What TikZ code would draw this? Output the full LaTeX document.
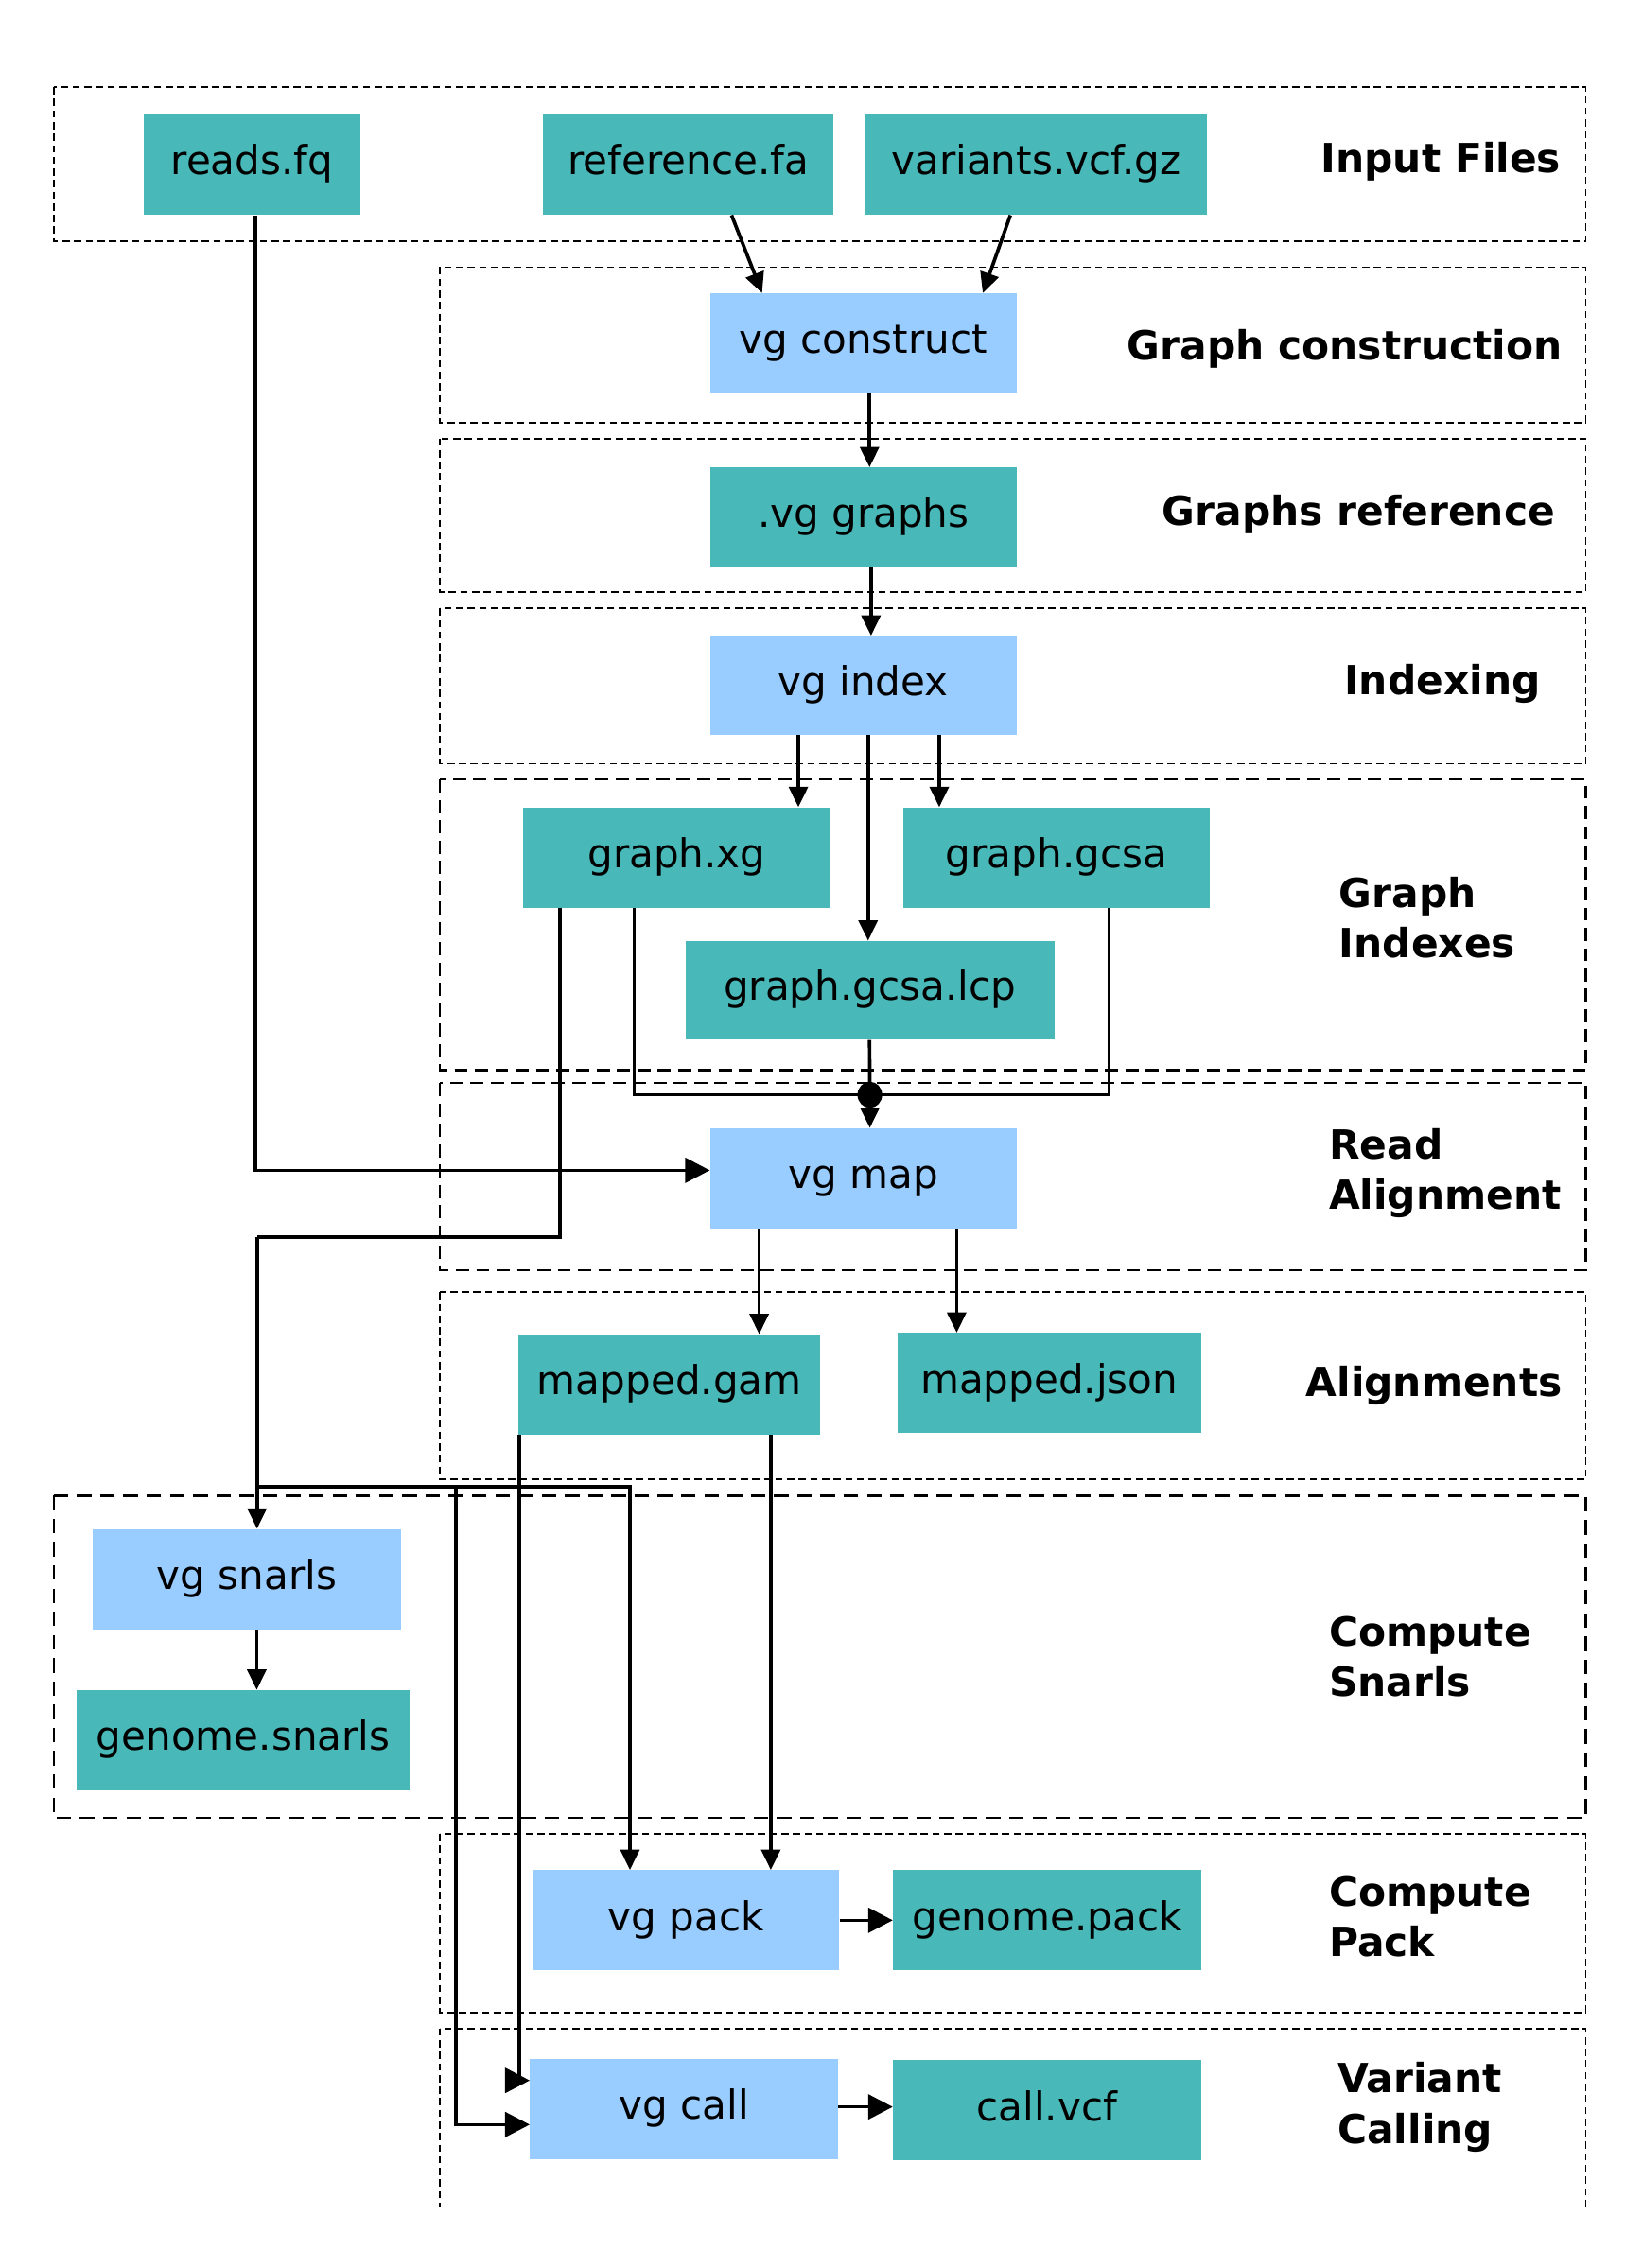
\documentclass[tikz,border=0pt]{standalone}
\usepackage{fontspec}
\setmainfont{DejaVu Sans}
\usetikzlibrary{arrows.meta,calc}
\definecolor{tealc}{RGB}{72,184,184}
\definecolor{bluec}{RGB}{153,204,255}
\begin{document}
\begin{tikzpicture}[x=1pt,y=-1pt,
 box/.style={draw=none, inner sep=0pt, text height=20pt, text depth=6pt, font=\fontsize{27.4}{33}\selectfont, text=black},
 filebox/.style={box, fill=tealc},
 toolbox/.style={box, fill=bluec},
 grp/.style={draw=black, line width=1.2pt, dash pattern=on 5pt off 3pt},
 grplong/.style={draw=black, line width=1.4pt, dash pattern=on 9pt off 5pt},
 grpthick/.style={draw=black, line width=1.6pt, dash pattern=on 10pt off 6pt},
 lab/.style={inner sep=0pt, font=\fontsize{27.6}{35}\selectfont\bfseries, align=left},
 wire/.style={line width=2.4pt},
 arr/.style={wire, -{Triangle[length=14pt,width=13pt]}},
 bigarr/.style={wire, -{Triangle[length=17pt,width=17pt]}}]
\useasboundingbox (0,0) rectangle (1131,1562);

% group frames
\draw[grp] (37,60) rectangle (1092,166);
\draw[grp] (303,184) rectangle (1092,291);
\draw[grp] (303,302) rectangle (1092,408);
\draw[grp] (303,419) rectangle (1092,526);
\draw[grplong] (303,537) rectangle (1092,737);
\draw[grplong] (303,746) rectangle (1092,875);
\draw[grp] (303,890) rectangle (1092,1019);
\draw[grpthick] (37,1030) rectangle (1092,1252);
\draw[grp] (303,1263) rectangle (1092,1386);
\draw[grp] (303,1397) rectangle (1092,1520);

% group labels
\node[lab, anchor=east] (lInput) at (1075,111) {Input Files};
\node[lab, anchor=east] (lGc) at (1076,240) {Graph construction};
\node[lab, anchor=east] (lGr) at (1071,354) {Graphs reference};
\node[lab, anchor=east] (lIx) at (1061,471) {Indexing};
\node[lab, anchor=west] (lGI) at (922,632) {Graph\\Indexes};
\node[lab, anchor=west] (lRA) at (915,808) {Read\\Alignment};
\node[lab, anchor=east] (lAl) at (1076,954) {Alignments};
\node[lab, anchor=west] (lCS) at (915,1141) {Compute\\Snarls};
\node[lab, anchor=west] (lCP) at (915,1320) {Compute\\Pack};
\node[lab, anchor=west] (lVC) at (921,1451) {Variant\\Calling};

% nodes
\node[filebox, minimum width=149, minimum height=69] (reads) at (173.5,113.5) {reads.fq};
\node[filebox, minimum width=200, minimum height=69] (ref) at (474,113.5) {reference.fa};
\node[filebox, minimum width=235, minimum height=69] (var) at (713.5,113.5) {variants.vcf.gz};
\node[toolbox, minimum width=211, minimum height=68] (vgconstruct) at (594.5,236) {vg construct};
\node[filebox, minimum width=211, minimum height=68] (vggraphs) at (594.5,356) {.vg graphs};
\node[toolbox, minimum width=211, minimum height=68] (vgindex) at (594.5,472) {vg index};
\node[filebox, minimum width=212, minimum height=69] (gxg) at (466,590.5) {graph.xg};
\node[filebox, minimum width=211, minimum height=69] (ggcsa) at (727.5,590.5) {graph.gcsa};
\node[filebox, minimum width=254, minimum height=68] (glcp) at (599,682) {graph.gcsa.lcp};
\node[toolbox, minimum width=211, minimum height=69] (vgmap) at (594.5,811.5) {vg map};
\node[filebox, minimum width=208, minimum height=69] (mgam) at (461,953.5) {mapped.gam};
\node[filebox, minimum width=209, minimum height=69] (mjson) at (722.5,952.5) {mapped.json};
\node[toolbox, minimum width=212, minimum height=69] (vgsnarls) at (170,1087.5) {vg snarls};
\node[filebox, minimum width=229, minimum height=69] (gsnarls) at (167.5,1198.5) {genome.snarls};
\node[toolbox, minimum width=211, minimum height=69] (vgpack) at (472.5,1322.5) {vg pack};
\node[filebox, minimum width=212, minimum height=69] (gpack) at (721,1322.5) {genome.pack};
\node[toolbox, minimum width=212, minimum height=69] (vgcall) at (471,1452.5) {vg call};
\node[filebox, minimum width=212, minimum height=69] (callvcf) at (721,1453.5) {call.vcf};

% helper coordinates
\coordinate (jn) at (599,754);
\coordinate (k1) at (177,852);
\coordinate (k2) at (177,1024);
\coordinate (k3) at (314,1024);

% connectors
\draw[bigarr] ([xshift=77pt]reads.south west) |- ([yshift=5.5pt]vgmap.west);
\draw[arr] ([xshift=130pt]ref.south west) -- ([xshift=36pt]vgconstruct.north west);
\draw[arr] ([xshift=100pt]var.south west) -- ([xshift=188pt]vgconstruct.north west);
\draw[arr] ([xshift=110pt]vgconstruct.south west) -- ([xshift=110pt]vggraphs.north west);
\draw[arr] ([xshift=111pt]vggraphs.south west) -- ([xshift=111pt]vgindex.north west);
\draw[arr] ([xshift=61pt]vgindex.south west) -- ([xshift=61pt]vgindex.south west |- gxg.north);
\draw[arr] ([xshift=158pt]vgindex.south west) -- ([xshift=158pt]vgindex.south west |- ggcsa.north);
\draw[arr] ([xshift=109pt]vgindex.south west) -- ([xshift=109pt]vgindex.south west |- glcp.north);

\draw[wire] ([xshift=77pt]gxg.south west) |- (jn);
\draw[wire] ([xshift=142pt]ggcsa.south west) |- (jn);
\draw[wire] ([xshift=127pt]glcp.south west) -- (jn);
\fill (jn) ellipse (8.5pt and 9pt);
\draw[arr] (jn) -- (jn |- vgmap.north);

\draw[wire] ([xshift=26pt]gxg.south west) |- (k1);
\draw[arr] (k1) -- (k1 |- vgsnarls.north);
\draw[arr] (k2) -| ([xshift=67pt]vgpack.north west);
\draw[bigarr] (k3) |- ([yshift=24pt]vgcall.south west);
\draw[arr] ([xshift=113pt]vgsnarls.south west) -- ([xshift=113pt]vgsnarls.south west |- gsnarls.north);

\draw[arr] ([xshift=34pt]vgmap.south west) -- ([xshift=34pt]vgmap.south west |- mgam.north);
\draw[arr] ([xshift=170pt]vgmap.south west) -- ([xshift=170pt]vgmap.south west |- mjson.north);
\draw[bigarr] ([xshift=1pt]mgam.south west) |- ([yshift=-15pt]vgcall.north west);
\draw[arr] ([xshift=174pt]mgam.south west) -- ([xshift=174pt]mgam.south west |- vgpack.north);

\draw[bigarr] (vgpack.east) -- (vgpack.east -| gpack.west);
\draw[bigarr] ([yshift=1.5pt]vgcall.east) -- ([yshift=1.5pt]vgcall.east -| callvcf.west);
\end{tikzpicture}
\end{document}
